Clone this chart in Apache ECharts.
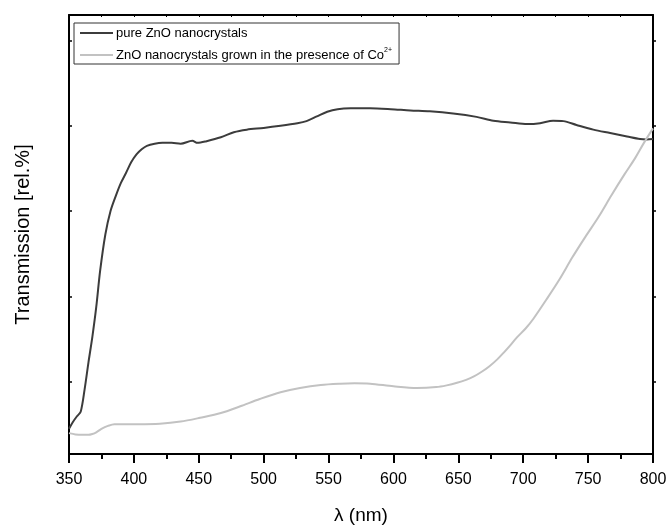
<!DOCTYPE html>
<html>
<head>
<meta charset="utf-8">
<script src="https://cdn.jsdelivr.net/npm/echarts@6/dist/echarts.min.js"></script>
<style>
  html, body { margin: 0; padding: 0; background: #ffffff; }
  #chart { width: 671px; height: 525px; }
</style>
</head>
<body>
<div id="chart"></div>
<script>
// Wavelength range and tick layout
const xMin = 350, xMax = 800;
const yMin = 3, yMax = 106;
const yTickValues = [20, 40, 60, 80, 100];

// Pure ZnO nanocrystals
const lambdaPure = [350, 353, 356, 359, 362, 365, 368, 371, 374, 378, 382, 386, 390, 394, 398, 402, 406, 410, 416, 422, 429, 436, 445, 449, 456, 467, 477, 487, 500, 513, 526, 533, 541, 549, 557, 567, 582, 598, 613, 628, 646, 664, 677, 690, 703, 713, 723, 731, 741, 754, 767, 780, 790, 795, 800];
const transPure  = [8.9, 10.5, 11.8, 12.9, 18.1, 24.5, 30.5, 37.5, 46.0, 54.5, 60.0, 63.5, 66.6, 69.0, 71.5, 73.3, 74.5, 75.3, 75.8, 76.0, 76.0, 75.8, 76.5, 76.0, 76.4, 77.3, 78.5, 79.1, 79.5, 80.0, 80.6, 81.1, 82.2, 83.3, 83.9, 84.1, 84.1, 83.9, 83.6, 83.4, 82.9, 82.1, 81.2, 80.8, 80.4, 80.6, 81.2, 81.1, 80.2, 79.1, 78.3, 77.5, 76.9, 76.8, 76.9];

// ZnO nanocrystals grown with Co2+
const lambdaCo = [350, 355, 360, 365, 368, 371, 375, 380, 385, 392, 403, 420, 436, 451, 467, 482, 497, 513, 528, 544, 559, 570, 582, 600, 618, 633, 641, 649, 656, 662, 668, 674, 680, 685, 690, 695, 702, 708, 718, 728, 738, 748, 758, 768, 778, 786, 793, 800];
const transCo  = [7.9, 7.6, 7.5, 7.5, 7.7, 8.1, 8.9, 9.6, 10.0, 10.0, 10.0, 10.1, 10.6, 11.5, 12.6, 14.2, 15.9, 17.5, 18.5, 19.2, 19.5, 19.6, 19.5, 18.9, 18.5, 18.7, 19.1, 19.7, 20.4, 21.2, 22.3, 23.6, 25.2, 26.8, 28.5, 30.3, 32.5, 34.8, 39.3, 44.0, 49.2, 54.0, 58.6, 63.7, 68.6, 72.3, 76.0, 79.4];

const seriesNames = ['pure ZnO nanocrystals', 'ZnO nanocrystals grown in the presence of Co2+'];

const pairs = (xs, ys) => xs.map((x, i) => [x, ys[i]]);

const FONT = '"Liberation Sans", Arial, Helvetica, sans-serif';
const chart = echarts.init(document.getElementById('chart'), null, { renderer: 'canvas' });

chart.setOption({
  animation: false,
  backgroundColor: '#ffffff',
  textStyle: { fontFamily: FONT },
  grid: { left: 69, right: 18, top: 15, bottom: 71, show: false, containLabel: false, outerBoundsMode: 'none' },
  legend: {
    orient: 'vertical',
    left: 74,
    top: 23,
    padding: [3, 7, 1, 6],
    itemGap: 7,
    itemWidth: 33,
    itemHeight: 2,
    icon: 'rect',
    borderColor: '#333333',
    borderWidth: 1,
    borderRadius: 0,
    backgroundColor: '#ffffff',
    data: seriesNames,
    textStyle: {
      fontFamily: FONT, fontSize: 13, lineHeight: 14, color: '#000000', padding: [0, 0, 0, -2],
      rich: {
        sup: { fontFamily: FONT, fontSize: 7, lineHeight: 14, color: '#000000', padding: [0, 0, 9, 0] }
      }
    },
    formatter: function (name) {
      if (name.endsWith('Co2+')) {
        return 'ZnO nanocrystals grown in the presence of Co{sup|2+}';
      }
      return name;
    }
  },
  xAxis: [
    {
      type: 'value', position: 'bottom',
      min: xMin, max: xMax, interval: 50,
      name: 'λ (nm)', nameLocation: 'middle', nameGap: 52,
      nameTextStyle: { fontFamily: FONT, fontSize: 19, color: '#000000' },
      axisLine: { show: true, onZero: false, lineStyle: { color: '#000000', width: 2 } },
      axisTick: { show: true, inside: false, length: 9, lineStyle: { color: '#000000', width: 2 } },
      minorTick: { show: true, splitNumber: 2, length: 5, lineStyle: { color: '#000000', width: 2 } },
      axisLabel: { show: true, margin: 18, fontFamily: FONT, fontSize: 16, color: '#000000' },
      splitLine: { show: false }
    },
    {
      type: 'value', position: 'top',
      min: xMin, max: xMax, interval: 25,
      axisLine: { show: true, onZero: false, lineStyle: { color: '#000000', width: 2 } },
      axisTick: { show: true, inside: true, length: 2, lineStyle: { color: '#000000', width: 1 } },
      axisLabel: { show: false },
      splitLine: { show: false }
    }
  ],
  yAxis: [
    {
      type: 'value', position: 'left',
      min: yMin, max: yMax,
      name: 'Transmission [rel.%]', nameLocation: 'middle', nameGap: 36,
      nameTextStyle: { fontFamily: FONT, fontSize: 20, color: '#000000' },
      axisLine: { show: true, onZero: false, lineStyle: { color: '#000000', width: 2 } },
      axisTick: { show: true, inside: true, length: 3, customValues: yTickValues, lineStyle: { color: '#000000', width: 1.5 } },
      axisLabel: { show: false, customValues: yTickValues },
      splitLine: { show: false }
    },
    {
      type: 'value', position: 'right',
      min: yMin, max: yMax,
      axisLine: { show: true, onZero: false, lineStyle: { color: '#000000', width: 2 } },
      axisTick: { show: true, inside: false, length: 3, customValues: yTickValues, lineStyle: { color: '#000000', width: 1.5 } },
      axisLabel: { show: false, customValues: yTickValues },
      splitLine: { show: false }
    }
  ],
  series: [
    {
      name: seriesNames[0], type: 'line', xAxisIndex: 0, yAxisIndex: 0,
      data: pairs(lambdaPure, transPure),
      smooth: 0.3, symbol: 'none',
      lineStyle: { color: '#3c3c3c', width: 2 },
      itemStyle: { color: '#3c3c3c' }
    },
    {
      name: seriesNames[1], type: 'line', xAxisIndex: 0, yAxisIndex: 0,
      data: pairs(lambdaCo, transCo),
      smooth: 0.3, symbol: 'none',
      lineStyle: { color: '#c2c2c2', width: 2 },
      itemStyle: { color: '#c2c2c2' }
    }
  ]
});
</script>
</body>
</html>
